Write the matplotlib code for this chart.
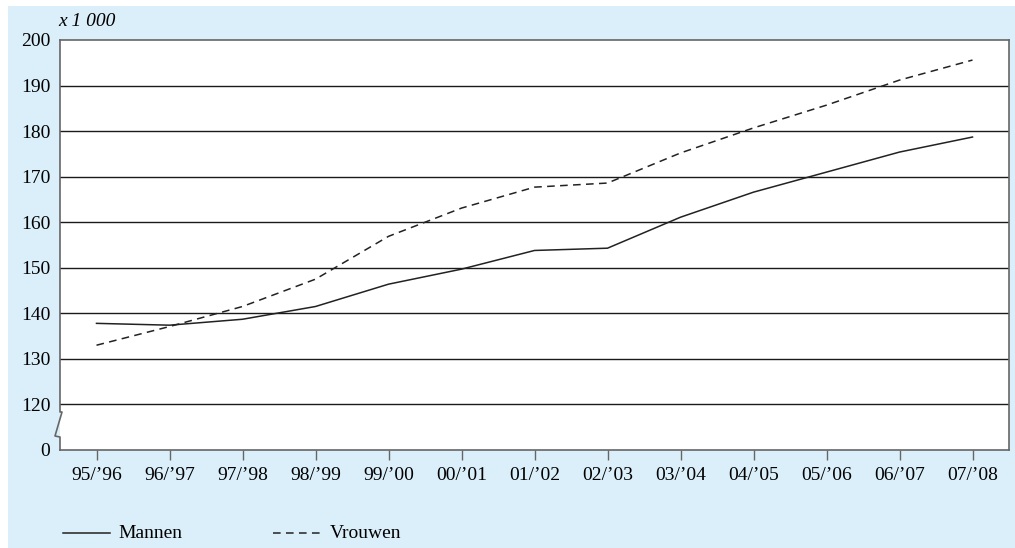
import matplotlib.pyplot as plt
from matplotlib.patches import Rectangle
from matplotlib.lines import Line2D

jaren = ["95/\u201996", "96/\u201997", "97/\u201998", "98/\u201999", "99/\u201900",
         "00/\u201901", "01/\u201902", "02/\u201903", "03/\u201904", "04/\u201905",
         "05/\u201906", "06/\u201907", "07/\u201908"]
mannen = [137.8, 137.4, 138.7, 141.5, 146.4, 149.7, 153.8, 154.3, 161.1,
          166.6, 171.0, 175.4, 178.7]
vrouwen = [133.0, 137.1, 141.5, 147.5, 156.9, 163.1, 167.7, 168.6, 175.2,
           180.7, 185.7, 191.2, 195.6]
y_ticks = [110, 120, 130, 140, 150, 160, 170, 180, 190, 200]
y_labels = ["0", "120", "130", "140", "150", "160", "170", "180", "190", "200"]

plt.rcParams["font.family"] = ["Liberation Serif", "DejaVu Serif"]
plt.rcParams["font.size"] = 14

W, H = 1015, 548
fig = plt.figure(figsize=(W / 100, H / 100), dpi=100, facecolor="white")
blauw = "#dbeffa"
fig.patches.append(Rectangle((8 / W, 0), 1 - 8 / W, 1 - 6 / H,
                             transform=fig.transFigure, facecolor=blauw,
                             edgecolor="none", zorder=-10))

ax = fig.add_axes([60 / W, 98 / H, 949 / W, 410 / H])
ax.set_zorder(1)
ax.set_facecolor("white")

x = range(len(jaren))
lijn = "#222222"
streep = (0, (5, 3.5))
ax.plot(x, mannen, color=lijn, lw=1.1, zorder=3)
ax.plot(x, vrouwen, color=lijn, lw=1.1, ls=streep, zorder=3)

ax.set_xlim(-0.5, len(jaren) - 0.5)
ax.set_ylim(110, 200)
ax.set_xticks(list(x))
ax.set_xticklabels(jaren)
ax.set_yticks(y_ticks)
ax.set_yticklabels(y_labels)
ax.tick_params(axis="x", length=7, width=1, color="#666666", pad=5)
ax.tick_params(axis="y", length=0, pad=7)

for v in y_ticks[1:-1]:
    ax.axhline(v, color="#1a1a1a", lw=1, zorder=1)

for s in ["top", "right", "bottom"]:
    ax.spines[s].set_color("#666666")
    ax.spines[s].set_linewidth(1.2)
ax.spines["left"].set_visible(False)

# linker as met onderbreking
ah = 410
bx = [0, 0, 2 / 949, -5 / 949, 0, 0]
by = [1, 38 / ah, 38 / ah, 14 / ah, 13 / ah, 0]
ax.add_line(Line2D(bx, by, transform=ax.transAxes, color="#666666",
                   lw=1.2, clip_on=False))

fig.text(58 / W, 1 - 22 / H, "x 1 000", style="italic", va="center", ha="left")

# legenda
ly = 15 / H
fig.add_artist(Line2D([63 / W, 110 / W], [ly, ly], color=lijn, lw=1.1))
fig.text(118 / W, ly, "Mannen", va="center", ha="left")
fig.add_artist(Line2D([273 / W, 322 / W], [ly, ly], color=lijn, lw=1.1,
                      ls=streep))
fig.text(330 / W, ly, "Vrouwen", va="center", ha="left")

fig.savefig("out.png", dpi=100)
